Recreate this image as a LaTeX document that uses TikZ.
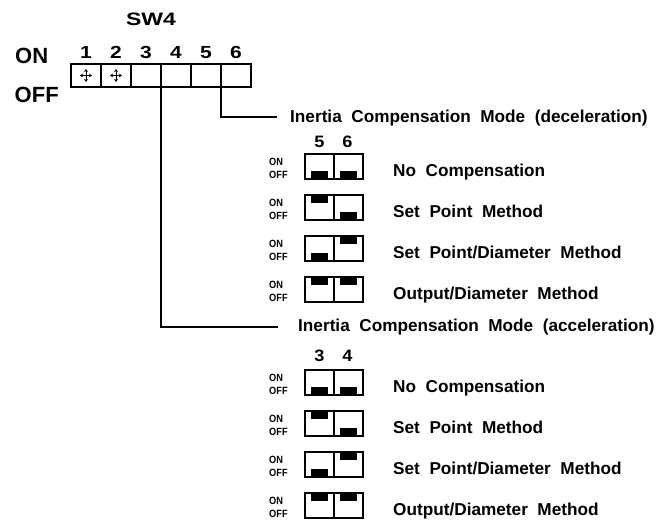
\documentclass[tikz,border=0pt]{standalone}
\usepackage{graphicx}
\usepackage{fontspec}
\setmainfont{Liberation Sans}
\usetikzlibrary{arrows.meta,calc}
\tikzset{
  lbl/.style={font=\fontsize{17.2}{19}\selectfont\bfseries, inner sep=0, anchor=base west},
  ttl/.style={font=\fontsize{17.2}{19}\selectfont\bfseries, inner sep=0, anchor=base west},
  sm/.style={font=\fontsize{10.5}{11}\selectfont\bfseries, inner sep=0, anchor=base west},
  dig/.style={font=\fontsize{17.5}{19}\selectfont\bfseries, inner sep=0, anchor=base},
  sdig/.style={font=\fontsize{16.5}{18}\selectfont\bfseries, inner sep=0, anchor=base},
  big/.style={font=\fontsize{22}{24}\selectfont\bfseries, inner sep=0, anchor=base west},
  swcell/.style={draw, line width=2pt, minimum width=30pt, minimum height=23.6pt, inner sep=0, outer sep=0},
  dipcell/.style={draw, line width=2pt, minimum width=29pt, minimum height=25pt, inner sep=0, outer sep=0},
  conn/.style={line width=2pt},
  cross/.style={line width=0.9pt, {Stealth[length=3pt,width=3.8pt]}-{Stealth[length=3pt,width=3.8pt]}}
}
\newcommand\wide[2]{\scalebox{#1}[1]{#2}}
\newcommand\cellblk[3]{%
  \ifnum#3=1 \fill (#1+6,#2) rectangle (#1+23,#2+8);
  \else \fill (#1+6,#2+17) rectangle (#1+23,#2+25); \fi}
\newcommand\diprow[5]{%
  \node[dipcell] (#1a) at (319,#2+12.5) {};
  \node[dipcell] (#1b) at (348,#2+12.5) {};
  \cellblk{304.5}{#2}{#3}\cellblk{333.5}{#2}{#4}
  \node[sm] (#1on) at (269,#2+11) {\wide{0.88}{ON}};
  \node[sm] (#1off) at (269,#2+24.5) {\wide{0.88}{OFF}};
  \node[lbl] (#1lbl) at (393,#2+22) {#5};
}
\begin{document}
\begin{tikzpicture}[x=1pt,y=-1pt]
\useasboundingbox (0,0) rectangle (671,519);
% main switch
\node[font=\fontsize{18}{20}\selectfont\bfseries, inner sep=0, anchor=base] (sw) at (151,26) {\wide{1.28}{SW4}};
\node[big] (on) at (15,63.3) {ON};
\node[big] (off) at (14.5,102.5) {OFF};
\foreach \i in {1,...,6}{
  \node[swcell] (s\i) at (56+30*\i,75.5) {};
  \node[dig] (n\i) at (56+30*\i,58.3) {\wide{1.2}{\i}};
}
\foreach \i in {1,2}{
  \draw[cross] ($(s\i.center)+(-6,0)$) -- ($(s\i.center)+(6,0)$);
  \draw[cross] ($(s\i.center)+(0,-6.5)$) -- ($(s\i.center)+(0,6.5)$);
}
% connectors and titles
\coordinate (dend) at (277,117);
\coordinate (aend) at (278,327);
\draw[conn] (s5.south east) |- (dend);
\draw[conn] (s3.south east) |- (aend);
\node[ttl] (dtitle) at (290,122) {Inertia\ \ Compensation\ \ Mode\ \ (deceleration)};
\node[ttl] (atitle) at (298,331) {Inertia\ \ Compensation\ \ Mode\ \ (acceleration)};
% deceleration group
\node[sdig] (d5) at (319.5,147) {\wide{1.1}{5}};
\node[sdig] (d6) at (347.5,147) {\wide{1.1}{6}};
\diprow{da}{154}{0}{0}{No\ \ Compensation}
\diprow{db}{195}{1}{0}{Set\ \ Point\ \ Method}
\diprow{dc}{236}{0}{1}{Set\ \ Point/Diameter\ \ Method}
\diprow{dd}{277}{1}{1}{Output/Diameter\ \ Method}
% acceleration group
\node[sdig] (a3) at (319.5,361) {\wide{1.1}{3}};
\node[sdig] (a4) at (347.5,361) {\wide{1.1}{4}};
\diprow{aa}{370}{0}{0}{No\ \ Compensation}
\diprow{ab}{411}{1}{0}{Set\ \ Point\ \ Method}
\diprow{ac}{452}{0}{1}{Set\ \ Point/Diameter\ \ Method}
\diprow{ad}{493}{1}{1}{Output/Diameter\ \ Method}
\end{tikzpicture}
\end{document}
